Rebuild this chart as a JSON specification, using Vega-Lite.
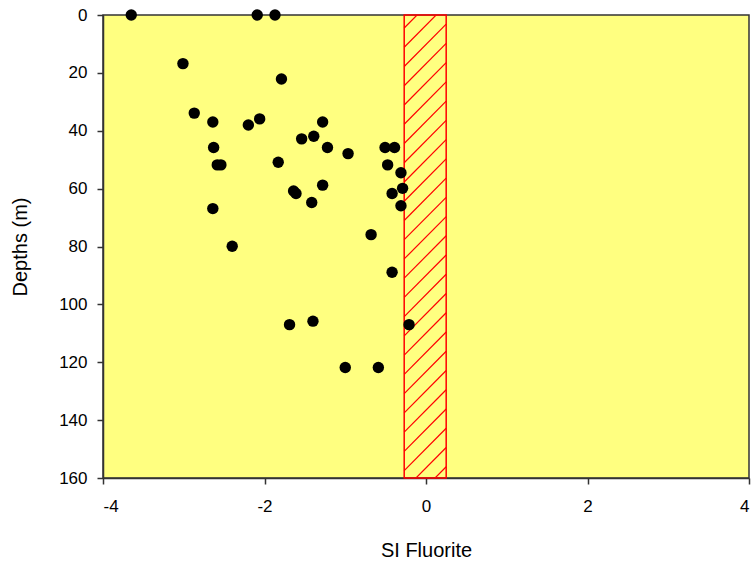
{
  "$schema": "https://vega.github.io/schema/vega-lite/v6.json",
  "width": 646,
  "height": 463,
  "autosize": {"type": "none"},
  "padding": {"left": 103, "top": 15, "right": 7, "bottom": 88},
  "background": "white",
  "config": {
    "view": {"fill": "#FFFF80", "stroke": "#333333", "strokeWidth": 1.5},
    "axis": {
      "grid": false,
      "labelFont": "Liberation Sans",
      "titleFont": "Liberation Sans",
      "labelFontSize": 17,
      "titleFontSize": 20,
      "titleFontWeight": "normal",
      "labelColor": "#000000",
      "titleColor": "#000000",
      "tickColor": "#333333",
      "domainColor": "#333333",
      "tickSize": 6,
      "tickWidth": 1.5,
      "domainWidth": 1.5,
      "labelExpr": "'' + datum.value"
    }
  },
  "datasets": {
    "samples": [
      {"si": -3.65, "depth": 0},
      {"si": -2.09, "depth": 0},
      {"si": -1.87, "depth": 0},
      {"si": -3.01, "depth": 16.8},
      {"si": -1.79, "depth": 22.1},
      {"si": -2.87, "depth": 33.9},
      {"si": -2.64, "depth": 37.0},
      {"si": -2.2, "depth": 38.0},
      {"si": -2.06, "depth": 35.9},
      {"si": -1.28, "depth": 37.0},
      {"si": -1.54, "depth": 42.8},
      {"si": -1.39, "depth": 41.9},
      {"si": -1.22, "depth": 45.8},
      {"si": -0.965, "depth": 47.9},
      {"si": -2.63, "depth": 45.8},
      {"si": -2.585, "depth": 51.8},
      {"si": -2.54, "depth": 51.8},
      {"si": -1.83, "depth": 50.9},
      {"si": -0.507, "depth": 45.8},
      {"si": -0.39, "depth": 45.8},
      {"si": -0.475, "depth": 51.8},
      {"si": -0.31, "depth": 54.5},
      {"si": -0.29, "depth": 59.9},
      {"si": -0.42, "depth": 61.7},
      {"si": -0.31, "depth": 65.9},
      {"si": -1.64, "depth": 60.8},
      {"si": -1.61, "depth": 61.7},
      {"si": -1.28, "depth": 58.8},
      {"si": -1.415, "depth": 64.8},
      {"si": -2.64, "depth": 66.9},
      {"si": -0.68, "depth": 75.9},
      {"si": -2.4, "depth": 79.9},
      {"si": -0.42, "depth": 88.9},
      {"si": -1.69, "depth": 107.0},
      {"si": -1.4, "depth": 105.8},
      {"si": -0.21, "depth": 107.0},
      {"si": -1.0, "depth": 121.8},
      {"si": -0.59, "depth": 121.8}
    ],
    "band": [
      {"si": -0.27, "si2": 0.25, "depth": 0, "depth2": 160}
    ],
    "hatch": [
      {"si": -0.27, "si2": 0.25, "depth": 4.5, "depth2": -10.15},
      {"si": -0.27, "si2": 0.25, "depth": 11.15, "depth2": -3.5},
      {"si": -0.27, "si2": 0.25, "depth": 17.8, "depth2": 3.15},
      {"si": -0.27, "si2": 0.25, "depth": 24.45, "depth2": 9.8},
      {"si": -0.27, "si2": 0.25, "depth": 31.1, "depth2": 16.45},
      {"si": -0.27, "si2": 0.25, "depth": 37.75, "depth2": 23.1},
      {"si": -0.27, "si2": 0.25, "depth": 44.4, "depth2": 29.75},
      {"si": -0.27, "si2": 0.25, "depth": 51.05, "depth2": 36.4},
      {"si": -0.27, "si2": 0.25, "depth": 57.7, "depth2": 43.05},
      {"si": -0.27, "si2": 0.25, "depth": 64.35, "depth2": 49.7},
      {"si": -0.27, "si2": 0.25, "depth": 71.0, "depth2": 56.35},
      {"si": -0.27, "si2": 0.25, "depth": 77.65, "depth2": 63.0},
      {"si": -0.27, "si2": 0.25, "depth": 84.3, "depth2": 69.65},
      {"si": -0.27, "si2": 0.25, "depth": 90.95, "depth2": 76.3},
      {"si": -0.27, "si2": 0.25, "depth": 97.6, "depth2": 82.95},
      {"si": -0.27, "si2": 0.25, "depth": 104.25, "depth2": 89.6},
      {"si": -0.27, "si2": 0.25, "depth": 110.9, "depth2": 96.25},
      {"si": -0.27, "si2": 0.25, "depth": 117.55, "depth2": 102.9},
      {"si": -0.27, "si2": 0.25, "depth": 124.2, "depth2": 109.55},
      {"si": -0.27, "si2": 0.25, "depth": 130.85, "depth2": 116.2},
      {"si": -0.27, "si2": 0.25, "depth": 137.5, "depth2": 122.85},
      {"si": -0.27, "si2": 0.25, "depth": 144.15, "depth2": 129.5},
      {"si": -0.27, "si2": 0.25, "depth": 150.8, "depth2": 136.15},
      {"si": -0.27, "si2": 0.25, "depth": 157.45, "depth2": 142.8},
      {"si": -0.27, "si2": 0.25, "depth": 164.1, "depth2": 149.45},
      {"si": -0.27, "si2": 0.25, "depth": 170.75, "depth2": 156.1}
    ]
  },
  "encoding": {
    "x": {
      "field": "si",
      "type": "quantitative",
      "title": "SI Fluorite",
      "scale": {"domain": [-4, 4], "nice": false, "zero": false},
      "axis": {"values": [-4, -2, 0, 2, 4], "labelPadding": 14, "titlePadding": 26}
    },
    "y": {
      "field": "depth",
      "type": "quantitative",
      "title": "Depths (m)",
      "scale": {"domain": [0, 160], "reverse": true, "nice": false},
      "axis": {"values": [0, 20, 40, 60, 80, 100, 120, 140, 160], "labelPadding": 10, "titlePadding": 28}
    }
  },
  "layer": [
    {
      "data": {"name": "hatch"},
      "mark": {"type": "rule", "color": "#FF0000", "strokeWidth": 1.2, "clip": true},
      "encoding": {
        "x2": {"field": "si2"},
        "y2": {"field": "depth2"}
      }
    },
    {
      "data": {"name": "band"},
      "mark": {"type": "rect", "fill": null, "fillOpacity": 0, "stroke": "#FF0000", "strokeWidth": 1.5},
      "encoding": {
        "x2": {"field": "si2"},
        "y2": {"field": "depth2"}
      }
    },
    {
      "data": {"name": "samples"},
      "mark": {"type": "point", "filled": true, "shape": "circle", "color": "#000000", "size": 130, "opacity": 1}
    }
  ]
}
